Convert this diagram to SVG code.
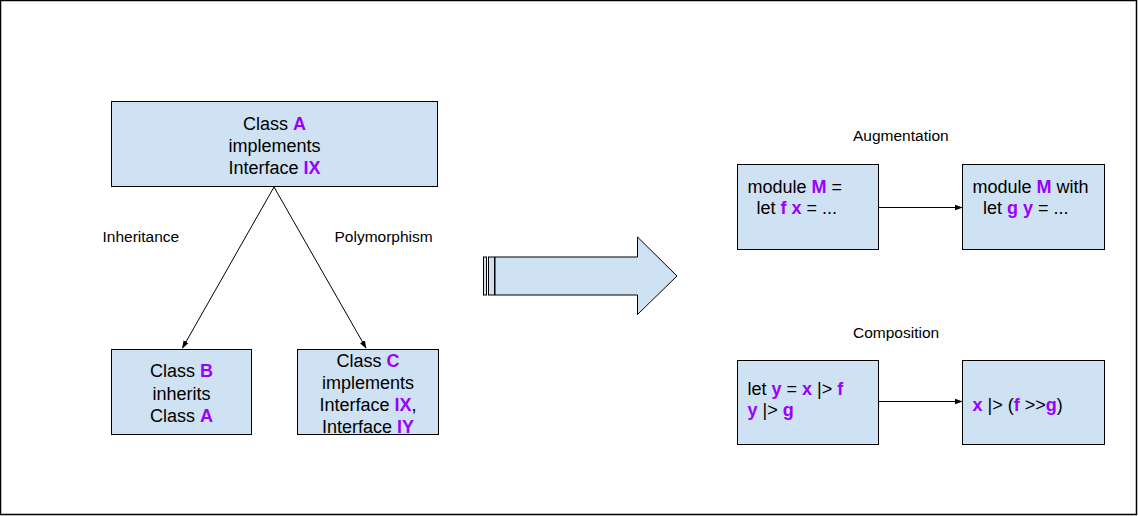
<svg xmlns="http://www.w3.org/2000/svg" width="1138" height="516" viewBox="0 0 1138 516">
<defs>
<style>
.box{fill:#cfe2f3;stroke:#000;stroke-width:1}
.t{font-family:"Liberation Sans",Arial,sans-serif;font-size:18px;fill:#000}
.lbl{font-family:"Liberation Sans",Arial,sans-serif;font-size:15.5px;fill:#000}
.p{fill:#9900ff;font-weight:bold}
.c{text-anchor:middle}
.edge{stroke:#000;stroke-width:1;fill:none;marker-end:url(#ah)}
</style>
<marker id="ah" viewBox="0 0 10 10" refX="9" refY="5" markerWidth="8" markerHeight="8" markerUnits="userSpaceOnUse" orient="auto">
<path d="M0,1.5 L10,5 L0,8.5 z" fill="#000"/>
</marker>
</defs>
<rect x="0.5" y="0.5" width="1136" height="514" fill="#fff" stroke="#000" stroke-width="1.5"/>

<g id="connectors">
<line class="edge" x1="274" y1="187" x2="182.5" y2="348"/>
<line class="edge" x1="274" y1="187" x2="366" y2="348"/>
<line class="edge" x1="879" y1="207.5" x2="962" y2="207.5"/>
<line class="edge" x1="879" y1="401.5" x2="962" y2="401.5"/>
</g>

<g id="labels">
<text class="lbl" x="102.5" y="241.5">Inheritance</text>
<text class="lbl" x="334.5" y="241.5">Polymorphism</text>
<text class="lbl" x="853" y="141">Augmentation</text>
<text class="lbl" x="853" y="337.5">Composition</text>
</g>

<g id="nodeA">
<rect class="box" x="111.5" y="101.5" width="326" height="85"/>
<text class="t c" x="274.5" y="129.5">Class <tspan class="p">A</tspan></text>
<text class="t c" x="274.5" y="151.5">implements</text>
<text class="t c" x="274.5" y="174">Interface <tspan class="p">IX</tspan></text>
</g>

<g id="nodeB">
<rect class="box" x="111.5" y="349.5" width="140" height="85"/>
<text class="t c" x="181.5" y="377">Class <tspan class="p">B</tspan></text>
<text class="t c" x="181.5" y="399.5">inherits</text>
<text class="t c" x="181.5" y="422">Class <tspan class="p">A</tspan></text>
</g>

<g id="nodeC">
<rect class="box" x="297.5" y="349.5" width="141" height="85"/>
<text class="t c" x="368" y="367">Class <tspan class="p">C</tspan></text>
<text class="t c" x="368" y="389">implements</text>
<text class="t c" x="368" y="411">Interface <tspan class="p">IX</tspan>,</text>
<text class="t c" x="368" y="433">Interface <tspan class="p">IY</tspan></text>
</g>

<g id="bigArrow">
<rect x="483.5" y="257" width="3" height="38" fill="#cfe2f3" stroke="#000" stroke-width="1"/>
<rect x="488.5" y="257" width="6" height="38" fill="#cfe2f3" stroke="#000" stroke-width="1"/>
<path d="M495,257 L637.5,257 L637.5,237 L677,276 L637.5,314.5 L637.5,295 L495,295 Z" fill="#cfe2f3" stroke="#000" stroke-width="1"/>
</g>

<g id="nodeM1">
<rect class="box" x="737.5" y="164.5" width="141" height="85"/>
<text class="t" x="747.5" y="192.5">module <tspan class="p">M</tspan> =</text>
<text class="t" x="756.5" y="213.5">let <tspan class="p">f x</tspan> = ...</text>
</g>

<g id="nodeM2">
<rect class="box" x="962.5" y="164.5" width="142" height="85"/>
<text class="t" x="972.5" y="192.5">module <tspan class="p">M</tspan> with</text>
<text class="t" x="983" y="213.5">let <tspan class="p">g y</tspan> = ...</text>
</g>

<g id="nodeC1">
<rect class="box" x="737.5" y="360.5" width="141" height="84"/>
<text class="t" x="747.5" y="395">let <tspan class="p">y</tspan> = <tspan class="p">x</tspan> |&gt; <tspan class="p">f</tspan></text>
<text class="t" x="747.5" y="415.5"><tspan class="p">y</tspan> |&gt; <tspan class="p">g</tspan></text>
</g>

<g id="nodeC2">
<rect class="box" x="962.5" y="360.5" width="142" height="84"/>
<text class="t" x="972.5" y="410.5"><tspan class="p">x</tspan> |&gt; (<tspan class="p">f</tspan> &gt;&gt;<tspan class="p">g</tspan>)</text>
</g>
</svg>
